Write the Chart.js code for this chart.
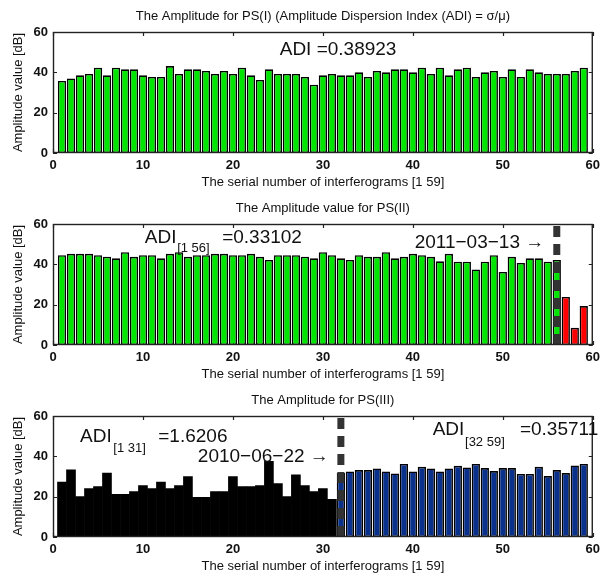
<!DOCTYPE html>
<html>
<head>
<meta charset="utf-8">
<script src="https://cdn.jsdelivr.net/npm/chart.js@4.4.1/dist/chart.umd.min.js"></script>
<style>
  html, body { margin: 0; padding: 0; background: #fff; }
  #wrap { position: relative; width: 605px; height: 581px; overflow: hidden; }
  #wrap canvas { position: absolute; left: 0; }
</style>
</head>
<body>
<div id="wrap">
  <canvas id="ps1" width="605" height="193" style="top:0px"></canvas>
  <canvas id="ps2" width="605" height="193" style="top:192px"></canvas>
  <canvas id="ps3" width="605" height="193" style="top:384px"></canvas>
</div>
<script>
// serial number of each interferogram (x axis)
var interferograms = [1, 2, 3, 4, 5, 6, 7, 8, 9, 10, 11, 12, 13, 14, 15, 16, 17, 18, 19, 20,
    21, 22, 23, 24, 25, 26, 27, 28, 29, 30, 31, 32, 33, 34, 35, 36, 37, 38, 39, 40,
    41, 42, 43, 44, 45, 46, 47, 48, 49, 50, 51, 52, 53, 54, 55, 56, 57, 58, 59];

// amplitude values [dB]
var ps1Amplitude = [35.7, 37.0, 38.5, 39.2, 42.3, 38.5, 42.3, 41.5, 41.5, 38.5,
    37.7, 37.7, 43.1, 39.2, 41.5, 41.5, 40.7, 39.2, 40.7, 39.2,
    42.3, 38.5, 36.2, 41.5, 39.2, 39.2, 39.2, 37.7, 33.9, 38.5,
    39.2, 38.5, 38.5, 40.0, 37.7, 40.7, 40.0, 41.5, 41.5, 40.0,
    42.3, 39.2, 42.3, 38.5, 41.5, 42.3, 37.7, 40.0, 40.7, 37.7,
    41.5, 37.7, 41.5, 40.0, 39.2, 39.2, 39.2, 40.7, 42.3];

var ps2Amplitude = [44.5, 45.2, 45.2, 45.2, 44.5, 43.8, 43.0, 46.0, 43.7, 44.5,
    44.5, 43.0, 45.2, 46.0, 43.7, 44.5, 44.5, 45.2, 45.2, 44.5,
    44.5, 45.2, 43.7, 42.2, 44.5, 44.5, 44.5, 43.8, 43.0, 46.0,
    44.5, 43.0, 42.2, 44.5, 43.7, 43.7, 46.0, 43.0, 43.7, 45.2,
    44.5, 43.7, 41.5, 45.2, 41.3, 41.3, 37.5, 41.3, 44.5, 36.2,
    43.7, 40.7, 43.0, 43.0, 41.3, 42.2, 23.8, 8.5, 19.3];

var ps3Amplitude = [27.2, 33.3, 20.0, 24.0, 25.0, 31.7, 21.2, 21.2, 22.5, 25.5,
    24.0, 27.2, 24.0, 25.5, 30.0, 19.7, 19.7, 22.5, 22.5, 30.0,
    25.0, 25.0, 25.5, 37.5, 26.5, 20.0, 30.8, 25.5, 22.5, 24.0,
    18.7, 31.7, 32.5, 33.2, 33.2, 34.0, 32.5, 31.5, 36.2, 32.5,
    34.8, 34.0, 32.5, 34.0, 35.3, 34.5, 36.2, 34.2, 32.7, 34.2,
    34.2, 31.3, 31.3, 34.8, 30.2, 33.2, 31.7, 35.5, 36.2];

var xTicks = [0, 10, 20, 30, 40, 50, 60];
var yTicks = [0, 20, 40, 60];

// event markers
var ps2LastBefore = 56;   // 2011-03-13
var ps3FirstAfter = 32;   // 2010-06-22

var FONT = '"Liberation Sans", Arial, Helvetica, sans-serif';

function points(values, from, to) {
    return interferograms.filter(function (n) {
        return n >= from && n <= to;
    }).map(function (n) {
        return { x: n, y: values[n - 1] };
    });
}

function barSet(data, color, width, border) {
    return {
        data: data,
        backgroundColor: color,
        borderColor: '#000',
        borderWidth: border,
        borderSkipped: false,
        grouped: false,
        barPercentage: width,
        categoryPercentage: 1
    };
}

// box, inward ticks, dashed event line and the text labels (MATLAB look)
var matlabAxes = {
    id: 'matlabAxes',
    beforeDatasetsDraw: function (chart) {
        var ctx = chart.ctx, a = chart.chartArea;
        var xs = chart.scales.x, ys = chart.scales.y;
        ctx.save();
        ctx.strokeStyle = '#222';
        ctx.lineWidth = 1.2;
        ctx.beginPath();
        xTicks.forEach(function (v) {
            var px = Math.round(xs.getPixelForValue(v)) + 0.5;
            ctx.moveTo(px, a.top); ctx.lineTo(px, a.top + 4);
            ctx.moveTo(px, a.bottom); ctx.lineTo(px, a.bottom - 4);
        });
        yTicks.forEach(function (v) {
            var py = Math.round(ys.getPixelForValue(v)) + 0.5;
            ctx.moveTo(a.left, py); ctx.lineTo(a.left + 4, py);
            ctx.moveTo(a.right, py); ctx.lineTo(a.right - 4, py);
        });
        ctx.stroke();
        ctx.restore();
    },
    afterDatasetsDraw: function (chart, args, opts) {
        var ctx = chart.ctx, a = chart.chartArea;
        var xs = chart.scales.x, ys = chart.scales.y;
        ctx.save();

        if (opts.marker) {
            var mx = xs.getPixelForValue(opts.marker);
            ctx.strokeStyle = '#333';
            ctx.lineWidth = 7;
            ctx.setLineDash([11, 7]);
            ctx.beginPath();
            ctx.moveTo(mx, ys.getPixelForValue(0));
            ctx.lineTo(mx, ys.getPixelForValue(60));
            ctx.stroke();
            ctx.setLineDash([]);
        }

        ctx.strokeStyle = '#222';
        ctx.lineWidth = 1.4;
        ctx.strokeRect(a.left + 0.5, a.top + 0.5, a.right - a.left - 1, a.bottom - a.top - 1);

        ctx.fillStyle = '#111';
        ctx.textAlign = 'center';
        ctx.textBaseline = 'middle';
        ctx.font = '13px ' + FONT;
        ctx.fillText(opts.title, (a.left + a.right) / 2, a.top - 16);

        ctx.textAlign = 'left';
        (opts.texts || []).forEach(function (t) {
            ctx.font = t.size + 'px ' + FONT;
            ctx.fillText(t.text, xs.getPixelForValue(t.x), ys.getPixelForValue(t.y));
        });
        ctx.restore();
    }
};

function makePanel(id, datasets, axesOpts) {
    return new Chart(document.getElementById(id), {
        type: 'bar',
        data: { datasets: datasets },
        plugins: [matlabAxes],
        options: {
            responsive: false,
            animation: false,
            devicePixelRatio: 1,
            layout: { padding: { top: 32, right: 12, left: 0, bottom: 0 } },
            plugins: {
                legend: { display: false },
                tooltip: { enabled: false },
                matlabAxes: axesOpts
            },
            scales: {
                x: {
                    type: 'linear',
                    min: 0,
                    max: 60,
                    offset: false,
                    grid: { display: false, drawTicks: false, offset: false },
                    border: { display: false },
                    ticks: {
                        stepSize: 10,
                        padding: 5,
                        color: '#111',
                        maxRotation: 0,
                        font: { family: FONT, size: 13, weight: 'bold' }
                    },
                    title: {
                        display: true,
                        text: 'The serial number of interferograms [1 59]',
                        color: '#111',
                        padding: { top: 0, bottom: 3 },
                        font: { family: FONT, size: 13 }
                    },
                    afterFit: function (scale) { scale.height = 40; }
                },
                y: {
                    min: 0,
                    max: 60,
                    grid: { display: false, drawTicks: false },
                    border: { display: false },
                    ticks: {
                        stepSize: 20,
                        padding: 5,
                        color: '#111',
                        font: { family: FONT, size: 13, weight: 'bold' }
                    },
                    title: {
                        display: true,
                        text: 'Amplitude value [dB]',
                        color: '#111',
                        padding: { top: 11, bottom: 0 },
                        font: { family: FONT, size: 13 }
                    },
                    afterFit: function (scale) { scale.width = 53; }
                }
            }
        }
    });
}

var GREEN = '#00e600', RED = '#ff0000', BLUE = '#0a328c', BLACK = '#000000';

makePanel('ps1', [
    barSet(points(ps1Amplitude, 1, 59), GREEN, 0.92, 1.6)
], {
    title: 'The Amplitude for PS(I) (Amplitude Dispersion Index (ADI) = σ/μ)',
    texts: [{ text: 'ADI =0.38923', x: 25.2, y: 51.1, size: 19 }]
});

makePanel('ps2', [
    barSet(points(ps2Amplitude, 1, ps2LastBefore), GREEN, 0.92, 1.6),
    barSet(points(ps2Amplitude, ps2LastBefore + 1, 59), RED, 0.92, 1.6)
], {
    title: 'The Amplitude value for PS(II)',
    marker: ps2LastBefore,
    texts: [
        { text: 'ADI', x: 10.2, y: 53, size: 19 },
        { text: '[1 56]', x: 13.8, y: 48, size: 13 },
        { text: '=0.33102', x: 18.8, y: 53, size: 19 },
        { text: '2011\u221203\u221213 \u2192', x: 40.2, y: 50.5, size: 19 }
    ]
});

makePanel('ps3', [
    barSet(points(ps3Amplitude, 1, ps3FirstAfter - 1), BLACK, 1.0, 0),
    barSet(points(ps3Amplitude, ps3FirstAfter, 59), BLUE, 0.92, 1.6)
], {
    title: 'The Amplitude for PS(III)',
    marker: ps3FirstAfter,
    texts: [
        { text: 'ADI', x: 3.0, y: 49.6, size: 19 },
        { text: '[1 31]', x: 6.7, y: 44.1, size: 13 },
        { text: '=1.6206', x: 11.7, y: 49.6, size: 19 },
        { text: '2010\u221206\u221222 \u2192', x: 16.1, y: 39.7, size: 19 },
        { text: 'ADI', x: 42.2, y: 53, size: 19 },
        { text: '[32 59]', x: 45.8, y: 47.1, size: 13 },
        { text: '=0.35711', x: 51.9, y: 53, size: 19 }
    ]
});
</script>
</body>
</html>
